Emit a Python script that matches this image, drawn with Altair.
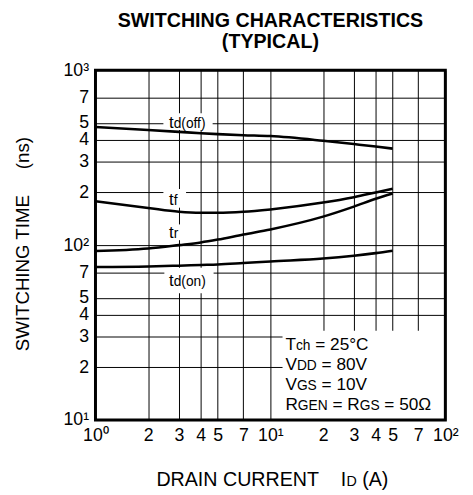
import altair as alt
import pandas as pd

# ---------------- data ----------------
current_A = [1, 2, 3, 4, 5, 7, 10, 20, 30, 40, 50]
td_off_ns = [473, 455, 444, 436, 431, 425, 420, 395, 378, 366, 356]
tf_ns = [178, 163, 155, 153, 153, 155, 160, 175, 188, 200, 210]
tr_ns = [92.5, 95.7, 100, 103.5, 107.5, 115, 123, 145.5, 166, 184, 197]
td_on_ns = [75, 75.5, 76.3, 77, 77.5, 79, 80.7, 83.8, 87, 90, 92.9]
series_names = ["td(off)", "tf", "tr", "td(on)"]

x_ticks = [1, 2, 3, 4, 5, 7, 10, 20, 30, 40, 50, 70, 100]
x_tick_labels = ["10⁰", "2", "3", "4", "5", "7", "10¹", "2", "3", "4", "5", "7", "10²"]
y_ticks = [10, 20, 30, 40, 50, 70, 100, 200, 300, 400, 500, 700, 1000]
y_tick_labels = ["10¹", "2", "3", "4", "5", "7", "10²", "2", "3", "4", "5", "7", "10³"]

FONT = "Liberation Sans"
NB = "\u00a0"

# Arial / Liberation Sans advance widths (per 1000 em)
ADV = {" ": 278, NB: 278, "=": 584, "°": 400, "(": 333, ")": 333, "Ω": 768,
       "A": 667, "C": 722, "D": 722, "E": 667, "G": 778, "I": 278, "N": 722,
       "R": 722, "S": 667, "T": 611, "U": 722, "V": 667,
       "c": 500, "d": 556, "f": 278, "h": 556, "n": 556, "o": 556, "r": 333, "t": 278}


def tw(s, size):
    return sum(ADV.get(ch, 556) for ch in s) * size / 1000.0


def label_expr(vals, labs):
    expr = "''"
    for v, l in reversed(list(zip(vals, labs))):
        expr = f"datum.value == {v} ? '{l}' : {expr}"
    return expr


W, H = 356, 356

xscale = alt.Scale(type="log", domain=[1, 100], nice=False)
yscale = alt.Scale(type="log", domain=[10, 1000], nice=False)

xaxis = alt.Axis(values=x_ticks, labelExpr=label_expr(x_ticks, x_tick_labels),
                 grid=True, title="", labelPadding=7, labelOverlap=False,
                 labelFlush=False, labelBound=False, labelAngle=0)
yaxis = alt.Axis(values=y_ticks, labelExpr=label_expr(y_ticks, y_tick_labels),
                 grid=True, labelPadding=7, labelOverlap=False,
                 labelFlush=False, labelBound=False,
                 title="SWITCHING TIME" + NB * 5 + "(ns)",
                 titleX=-68.5, titleY=176.5, titleAngle=270, titleAlign="center",
                 titleBaseline="alphabetic", titleFontSize=19,
                 titleFontWeight="normal", titleColor="black", titleFont=FONT)

X = alt.X("I:Q", scale=xscale, axis=xaxis)
Y = alt.Y("t:Q", scale=yscale, axis=yaxis)

# curves
rows = []
for name, vals in zip(series_names, [td_off_ns, tf_ns, tr_ns, td_on_ns]):
    for i, v in zip(current_A, vals):
        rows.append({"I": i, "t": v, "series": name})
curves_df = pd.DataFrame(rows)

curves = alt.Chart(curves_df).mark_line(
    color="black", strokeWidth=2.6, interpolate="monotone"
).encode(x=X, y=Y, detail="series:N")

# white boxes behind labels (data coordinates)
box_I = [2.445, 2.445, 2.445, 2.476, 11.73]
box_I2 = [4.675, 3.295, 3.295, 4.735, 100]
box_t = [455.3, 163.6, 106.7, 53.0, 10]
box_t2 = [567.7, 209.3, 131.3, 74.2, 32.4]
boxes = alt.Chart(pd.DataFrame({"I": box_I, "I2": box_I2, "t": box_t, "t2": box_t2})).mark_rect(
    fill="white"
).encode(x=X, x2="I2:Q", y=Y, y2="t2:Q")


def _split(txt, size, off):
    # leading spaces are dropped by the renderer: turn them into offset
    while txt.startswith(NB):
        off += tw(NB, size)
        txt = txt[1:]
    return txt, off


def rich(xd, yd, pieces):
    layers = []
    off = 0.0
    for txt, size in pieces:
        txt, off = _split(txt, size, off)
        df = pd.DataFrame({"I": [xd], "t": [yd], "txt": [txt]})
        layers.append(
            alt.Chart(df).mark_text(align="left", baseline="alphabetic", dx=off,
                                    fontSize=size, font=FONT, color="black")
            .encode(x=X, y=Y, text="txt:N"))
        off += tw(txt, size)
    return layers


def rich_px(xp, yp, pieces):
    layers = []
    off = 0.0
    for txt, size in pieces:
        txt, off = _split(txt, size, off)
        layers.append(
            alt.Chart(pd.DataFrame({"k": [0]})).mark_text(
                align="left", baseline="alphabetic", fontSize=size, font=FONT,
                color="black", text=txt)
            .encode(x=alt.value(xp + off), y=alt.value(yp)))
        off += tw(txt, size)
    return layers


texts = []
lab_x = 2.633
texts += rich(lab_x, 467.4, [("t", 17), ("d(off)", 14)])
texts += rich(lab_x, 170.1, [("t", 17), ("f", 14)])
texts += rich(lab_x, 109.9, [("t", 17), ("r", 14)])
texts += rich(lab_x, 58.0, [("t", 17), ("d(on)", 14)])

ann_x = 12.19
texts += rich(ann_x, 25.1, [("T", 17.5), ("ch", 14), (NB + "=" + NB + "25°C", 17.5)])
texts += rich(ann_x, 19.36, [("V", 17.5), ("DD", 14), (NB + "=" + NB + "80V", 17.5)])
texts += rich(ann_x, 14.94, [("V", 17.5), ("GS", 14), (NB + "=" + NB + "10V", 17.5)])
texts += rich(ann_x, 11.38, [("R", 17.5), ("GEN", 14), (NB + "=" + NB + "R", 17.5), ("GS", 14),
                             (NB + "=" + NB + "50Ω", 17.5)])

# x axis title (mixed sizes)
texts += rich_px(62, 423, [("DRAIN" + NB + "CURRENT" + NB * 4 + "I", 20), ("D", 14.5),
                           (NB + "(A)", 20)])

frame = alt.Chart(pd.DataFrame({"I": [1], "I2": [100], "t": [10], "t2": [1000]})).mark_rect(
    fill="transparent", stroke="black", strokeWidth=3
).encode(x=X, x2="I2:Q", y=Y, y2="t2:Q")

chart = alt.layer(boxes, curves, *texts, frame).properties(
    width=W, height=H,
    title=alt.TitleParams(text=["SWITCHING CHARACTERISTICS", "(TYPICAL)"],
                          fontSize=20, fontWeight="bold", font=FONT, color="black",
                          anchor="middle", frame="group", lineHeight=21, offset=10),
    autosize=alt.AutoSizeParams(type="none"),
    padding={"left": 89, "top": 59, "right": 20, "bottom": 72},
).configure_axis(
    labelFont=FONT, labelFontSize=18, labelColor="black",
    gridColor="#000000", gridWidth=1, domain=False, ticks=False,
).configure_view(strokeWidth=0)

chart.save("out.html", embed_options={"renderer": "svg", "actions": False})
